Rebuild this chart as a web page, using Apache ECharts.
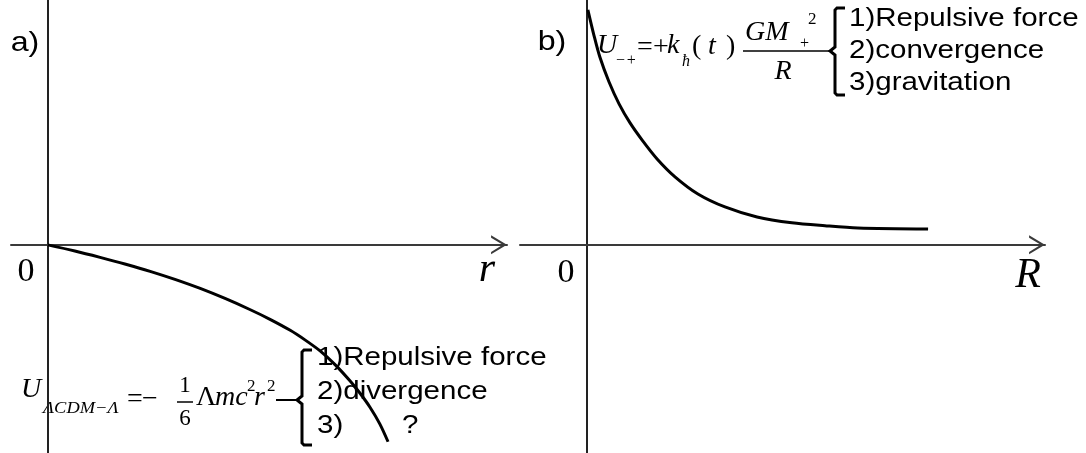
<!DOCTYPE html>
<html>
<head>
<meta charset="utf-8">
<script src="https://cdn.jsdelivr.net/npm/echarts@6/dist/echarts.min.js"></script>
<style>
  html, body { margin: 0; padding: 0; background: #fff; }
  #chart { width: 1086px; height: 453px; }
</style>
</head>
<body>
<div id="chart"></div>
<script>
// panel a: U = -1/6 Λ m c^2 r^2
const rA = [0, 0.59, 1.14, 1.68, 2.23, 2.77, 3.32, 3.86, 4.40, 4.84, 5.28, 5.60, 5.93, 6.25, 6.58, 6.80, 7.02, 7.23, 7.41];
const uA = [0, -0.25, -0.51, -0.78, -1.08, -1.41, -1.78, -2.19, -2.64, -3.04, -3.49, -3.88, -4.33, -4.88, -5.55, -6.06, -6.64, -7.31, -8.04];

// panel b: U = +k(t) G M^2 / R
const rB = [0.03, 0.16, 0.29, 0.49, 0.71, 0.95, 1.21, 1.54, 1.93, 2.43, 3.02, 3.72, 4.48, 5.20, 5.92, 7.45];
const uB = [9.60, 8.58, 7.68, 6.66, 5.76, 4.98, 4.29, 3.51, 2.78, 2.08, 1.55, 1.14, 0.90, 0.78, 0.69, 0.65];

// list next to the braces
const listA = ['1)Repulsive force', '2)divergence', '3)'];
const listB = ['1)Repulsive force', '2)convergence', '3)gravitation'];

const SERIF = '"Liberation Serif", "DejaVu Serif", serif';
const SANS = '"Liberation Sans", Arial, sans-serif';
const arrow = 'path://M0,10 L6,0 L12,10 L10.5,10 L6,2.6 L1.5,10 Z';

function txt(x, y, s, font, align, sx) {
  return {
    type: 'text', x: x, y: y, scaleX: sx || 1,
    style: {
      text: s, x: 0, y: 0, font: font, fill: '#000',
      align: align || 'left', textAlign: align || 'left',
      verticalAlign: 'middle', textVerticalAlign: 'middle'
    }
  };
}
function seg(points, w) {
  return { type: 'polyline', shape: { points: points }, style: { stroke: '#000', lineWidth: w || 2, fill: null } };
}
// bracket with a small notch in the middle
function brace(x, top, bot, mid) {
  return seg([[x + 11, top], [x + 3, top], [x + 1, top + 2], [x + 1, mid - 4], [x - 4, mid],
    [x + 1, mid + 4], [x + 1, bot - 2], [x + 3, bot], [x + 11, bot]], 3);
}

function axisX(grid, min) {
  return {
    type: 'value', gridIndex: grid, min: min, max: 10,
    axisLine: {
      show: true, onZero: true,
      symbol: ['none', arrow], symbolSize: [19, 17], symbolOffset: [0, -8],
      lineStyle: { color: '#3a3a3a', width: 2 }
    },
    axisTick: { show: false }, axisLabel: { show: false }, splitLine: { show: false }
  };
}
function axisY(grid) {
  return {
    type: 'value', gridIndex: grid, min: -8.5, max: 10,
    axisLine: { show: true, onZero: true, lineStyle: { color: '#222', width: 2 } },
    axisTick: { show: false }, axisLabel: { show: false }, splitLine: { show: false }
  };
}

const chart = echarts.init(document.getElementById('chart'));

const it = 'italic 28px ' + SERIF;
const up = '28px ' + SERIF;
const sub = 'italic 16px ' + SERIF;
const sup = '17px ' + SERIF;
const list = '25px ' + SANS;

const graphics = [
  // labels
  txt(25, 43, 'a)', '28px ' + SANS, 'center', 1.15),
  txt(552, 42, 'b)', '28px ' + SANS, 'center', 1.15),
  txt(26, 272, '0', '34px ' + SERIF, 'center'),
  txt(487, 270, 'r', 'italic 42px ' + SERIF, 'center'),
  txt(566, 273, '0', '34px ' + SERIF, 'center'),
  txt(1028, 276, 'R', 'italic 42px ' + SERIF, 'center'),

  // formula a
  txt(21, 390, 'U', it),
  txt(43, 409, 'ΛCDM−Λ', sub, 'left', 1.15),
  txt(127, 400, '=', up),
  txt(142, 400, '−', up),
  txt(185, 386, '1', '23px ' + SERIF, 'center'),
  txt(185, 419, '6', '23px ' + SERIF, 'center'),
  seg([[177, 402], [193, 402]], 1.5),
  txt(196, 398, 'Λ', up),
  txt(215, 398, 'mc', it),
  txt(247, 387, '2', sup),
  txt(254, 398, 'r', it),
  txt(267, 387, '2', sup),
  seg([[276, 400], [296, 400]], 2),
  brace(301, 350, 445, 400),
  txt(317, 358, listA[0], list, 'left', 1.18),
  txt(317, 392, listA[1], list, 'left', 1.18),
  txt(317, 426, listA[2], list, 'left', 1.18),
  txt(402, 426, '?', list, 'left', 1.18),

  // formula b
  txt(597, 46, 'U', it),
  txt(615, 61, '−+', sub),
  txt(637, 48, '=', up),
  txt(653, 48, '+', up),
  txt(667, 46, 'k', it),
  txt(682, 62, 'ħ', sub),
  txt(692, 47, '(', up),
  txt(708, 47, 't', it),
  txt(726, 47, ')', up),
  txt(745, 33, 'GM', it),
  txt(799, 44, '+', sub),
  txt(808, 20, '2', sup),
  txt(783, 72, 'R', it, 'center'),
  seg([[743, 51], [829, 51]], 1.5),
  brace(834, 8, 95, 51),
  txt(849, 19, listB[0], list, 'left', 1.18),
  txt(849, 51, listB[1], list, 'left', 1.18),
  txt(849, 83, listB[2], list, 'left', 1.18)
];

const option = {
  animation: false,
  backgroundColor: '#fff',
  grid: [
    { left: 11, top: 0, width: 496, height: 453 },
    { left: 520, top: 0, width: 525, height: 453 }
  ],
  xAxis: [axisX(0, -0.8), axisX(1, -1.45)],
  yAxis: [axisY(0), axisY(1)],
  series: [
    {
      type: 'line', xAxisIndex: 0, yAxisIndex: 0,
      data: rA.map((r, i) => [r, uA[i]]),
      showSymbol: false, smooth: 0.3,
      lineStyle: { color: '#000', width: 3 }
    },
    {
      type: 'line', xAxisIndex: 1, yAxisIndex: 1,
      data: rB.map((r, i) => [r, uB[i]]),
      showSymbol: false, smooth: 0.3,
      lineStyle: { color: '#000', width: 3 }
    }
  ],
  graphic: graphics
};
chart.setOption(option);
</script>
</body>
</html>
